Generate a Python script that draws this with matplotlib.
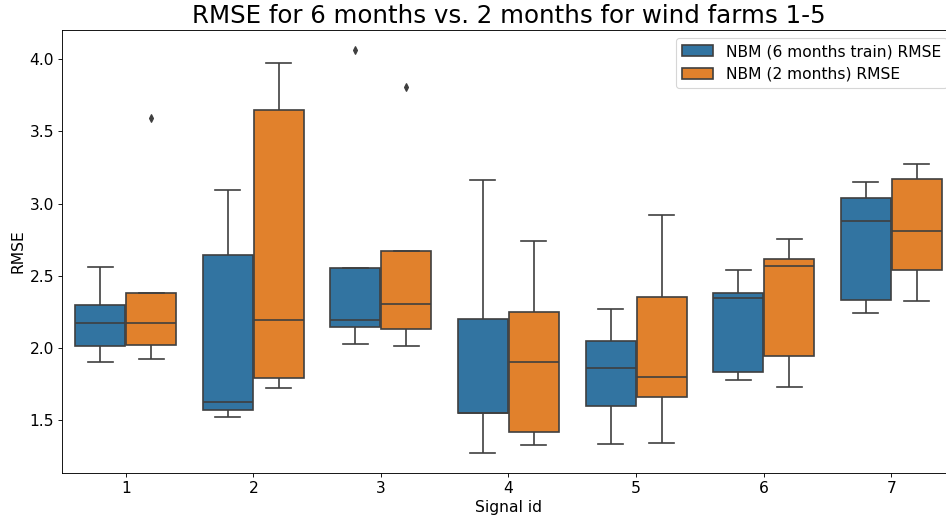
import matplotlib
matplotlib.use("Agg")
import matplotlib.pyplot as plt
import pandas as pd
import seaborn as sns

signals = [1, 2, 3, 4, 5, 6, 7]
series = ["NBM (6 months train) RMSE", "NBM (2 months) RMSE"]

# 5 wind farms per signal
rmse_6m = [
    [1.906, 2.012, 2.173, 2.298, 2.558],
    [1.526, 1.570, 1.625, 2.643, 3.095],
    [2.030, 2.143, 2.194, 2.556, 4.062],
    [1.275, 1.549, 1.553, 2.203, 3.166],
    [1.336, 1.598, 1.862, 2.049, 2.268],
    [1.780, 1.835, 2.344, 2.378, 2.537],
    [2.243, 2.335, 2.883, 3.042, 3.148],
]
rmse_2m = [
    [1.922, 2.019, 2.173, 2.381, 3.592],
    [1.722, 1.791, 2.192, 3.645, 3.972],
    [2.015, 2.130, 2.305, 2.673, 3.804],
    [1.328, 1.420, 1.904, 2.247, 2.738],
    [1.342, 1.662, 1.800, 2.351, 2.924],
    [1.729, 1.945, 2.567, 2.616, 2.752],
    [2.326, 2.540, 2.809, 3.169, 3.277],
]

rows = []
for sig, a, b in zip(signals, rmse_6m, rmse_2m):
    for v in a:
        rows.append((sig, series[0], v))
    for v in b:
        rows.append((sig, series[1], v))
df = pd.DataFrame(rows, columns=["Signal id", "model", "RMSE"])

# figure rendered at 80 dpi so fonts/ticks come out at the reference scale
fig = plt.figure(figsize=(946 / 80, 518 / 80), dpi=80)
ax = fig.add_axes([0.0655, 0.087, 0.944, 0.855])

sns.boxplot(data=df, x="Signal id", y="RMSE", hue="model", ax=ax,
            palette=["#3274a1", "#e1812c"], saturation=1, width=0.8, gap=0.02,
            linecolor="#3f3f3f", linewidth=1.5,
            flierprops=dict(marker="d", markerfacecolor="#3f3f3f",
                            markeredgecolor="#3f3f3f", markersize=5))

ax.set_title("RMSE for 6 months vs. 2 months for wind farms 1-5", fontsize=22)
ax.set_xlabel("Signal id", fontsize=14)
ax.set_ylabel("RMSE", fontsize=14)
ax.tick_params(labelsize=14)
h, l = ax.get_legend_handles_labels()
ax.legend(h, l, loc="upper right", fontsize=14)

fig.savefig("out.png", dpi=80)
